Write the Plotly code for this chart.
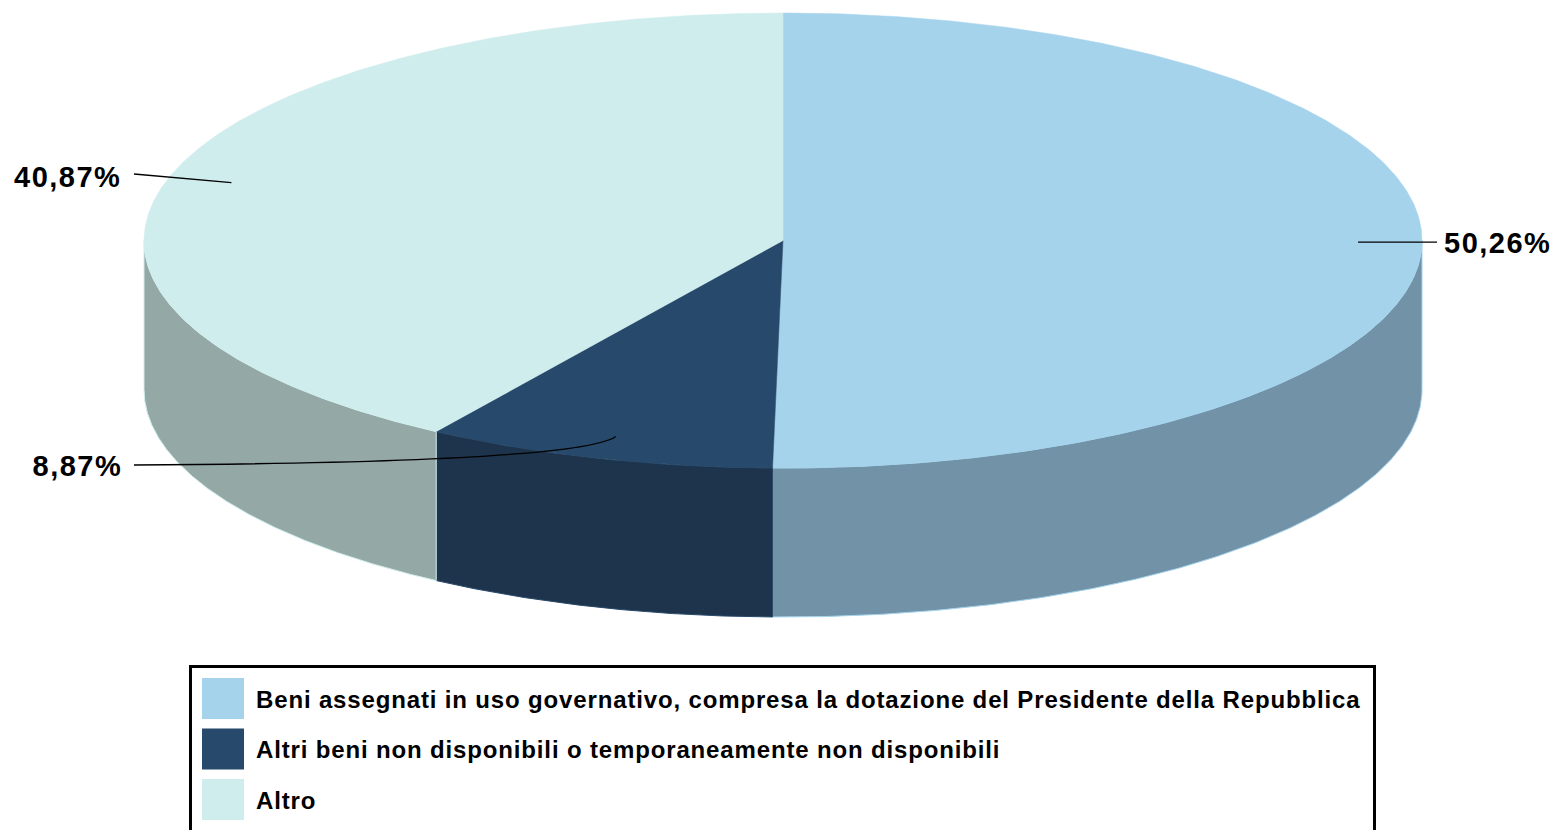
import numpy as np
import plotly.graph_objects as go

# ---- data ----
labels = [
    "Beni assegnati in uso governativo, compresa la dotazione del Presidente della Repubblica",
    "Altri beni non disponibili o temporaneamente non disponibili",
    "Altro",
]
values = [50.26, 8.87, 40.87]
pct_text = ["50,26%", "8,87%", "40,87%"]
top_colors = ["#A5D3EC", "#27496B", "#D0EDEE"]
side_colors = ["#7293A7", "#1E344C", "#94A9A6"]

# ---- geometry (layout, pixel-like units) ----
W, H = 1556, 830
CX, CY, RX, RY, DEPTH = 783, 240.5, 639, 227.5, 149
FONT = "Liberation Sans, Arial, sans-serif"


def pt(theta, r=1.0):
    t = np.radians(theta)
    return CX + r * RX * np.sin(t), CY - r * RY * np.cos(t)


total = sum(values)
angles = np.concatenate([[0], np.cumsum(values) / total * 360])

fig = go.Figure()

# side faces (front half, 90..270 deg)
for i in range(len(values)):
    a0, a1 = max(angles[i], 90), min(angles[i + 1], 270)
    if a1 <= a0:
        continue
    th = np.linspace(a0, a1, 200)
    x, y = pt(th)
    xs = np.concatenate([x, x[::-1], [x[0]]])
    ys = np.concatenate([y, (y + DEPTH)[::-1], [y[0]]])
    fig.add_trace(go.Scatter(x=xs, y=ys, mode="lines", fill="toself",
                             fillcolor=side_colors[i],
                             line=dict(color=top_colors[i], width=1),
                             hoverinfo="skip", showlegend=False))

# top faces
for i in range(len(values)):
    th = np.linspace(angles[i], angles[i + 1], 400)
    x, y = pt(th)
    xs = np.concatenate([[CX], x, [CX]])
    ys = np.concatenate([[CY], y, [CY]])
    fig.add_trace(go.Scatter(x=xs, y=ys, mode="lines", fill="toself",
                             fillcolor=top_colors[i],
                             line=dict(color=top_colors[i], width=0.5),
                             name=labels[i], hoverinfo="skip", showlegend=False))

shapes = []
annotations = []

# leader lines and percentage labels
mids = (angles[:-1] + angles[1:]) / 2
label_pos = [(1442, 243, "left"), (124, 466, "right"), (124, 177, "right")]
line_end = [(1437, None), (134, 465), (134, 174)]
for i in range(len(values)):
    sx, sy = pt(mids[i], 0.9)
    ex, ey = line_end[i]
    if ey is None:
        ey = sy
    if i == 1:
        path = f"M {sx},{sy} Q {sx - 37},{sy + 26} {ex},{ey}"
    else:
        path = f"M {sx},{sy} L {ex},{ey}"
    shapes.append(dict(type="path", path=path, xref="x", yref="y",
                       line=dict(color="black", width=1.3)))
    lx, ly, anc = label_pos[i]
    annotations.append(dict(x=lx, y=ly, xref="x", yref="y", text=f"<b>{pct_text[i]}</b>",
                            showarrow=False, xanchor=anc, yanchor="middle", align=anc,
                            font=dict(family=FONT, size=29, color="black")))

# legend (drawn)
shapes.append(dict(type="rect", xref="x", yref="y", x0=190.5, y0=666.5, x1=1374.5, y1=845,
                   line=dict(color="black", width=3), fillcolor="rgba(0,0,0,0)"))
for i in range(len(labels)):
    y0 = 678 + i * 50.5
    shapes.append(dict(type="rect", xref="x", yref="y", x0=202, x1=244, y0=y0, y1=y0 + 41,
                       line=dict(width=0), fillcolor=top_colors[i]))
    annotations.append(dict(x=254, y=y0 + 21, xref="x", yref="y", text=f"<b>{labels[i]}</b>",
                            showarrow=False, xanchor="left", yanchor="middle", align="left",
                            font=dict(family=FONT, size=24, color="black")))

fig.update_layout(
    width=W, height=H, margin=dict(l=0, r=0, t=0, b=0),
    paper_bgcolor="white", plot_bgcolor="white",
    xaxis=dict(range=[0, W], visible=False, fixedrange=True),
    yaxis=dict(range=[H, 0], visible=False, fixedrange=True),
    shapes=shapes, annotations=annotations, showlegend=False,
)

post = """
document.body.style.margin='0';
document.body.style.overflow='hidden';
document.querySelectorAll('text.annotation-text').forEach(function(t){
  var fs = t.style.fontSize;
  if (fs === '24px') { t.style.letterSpacing = '0.85px'; }
  if (fs === '29px') { t.style.letterSpacing = '1.5px'; }
});
"""
fig.write_html("out.html", post_script=post, config={"displayModeBar": False})
